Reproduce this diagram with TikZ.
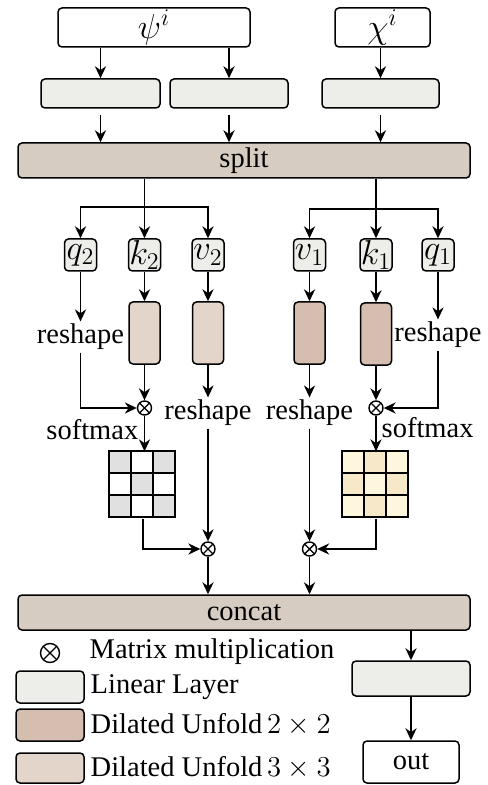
\documentclass[tikz,border=0pt]{standalone}
\usepackage{fontspec}
\setmainfont{Liberation Serif}
\usetikzlibrary{arrows.meta,calc}
\definecolor{linfill}{HTML}{EDEDE9}
\definecolor{barfill}{HTML}{D6CCC2}
\definecolor{dilA}{HTML}{D5BDAF}
\definecolor{dilB}{HTML}{E3D5CA}
\colorlet{lcell0}{black!12}
\colorlet{lcell1}{white}
\definecolor{rcell0}{HTML}{FEF7DE}
\definecolor{rcell1}{HTML}{F7E8C7}

\begin{document}
\begin{tikzpicture}[x=0.5pt,y=-0.5pt,line width=0.7pt,
    font=\fontsize{14.25}{17}\selectfont,
    >={Stealth[length=6pt,width=5.6pt]},
    box/.style={draw,rounded corners=2pt,inner sep=0pt,line width=0.75pt},
    linbox/.style={box,fill=linfill},
    bar/.style={box,fill=barfill,minimum width=226pt,minimum height=17.5pt},
    unf/.style={box,minimum width=15.5pt,minimum height=31pt},
    sym/.style={font=\fontsize{17}{20}\selectfont},
    mul/.style={draw,circle,inner sep=0pt,minimum size=7pt,path picture={\draw (path picture bounding box.north west) -- (path picture bounding box.south east) (path picture bounding box.north east) -- (path picture bounding box.south west);}},
    lbl/.style={inner sep=1pt}]
    \useasboundingbox (0,0) rectangle (487,785);
    \node[box,sym,minimum width=96pt,minimum height=19.5pt] (psi) at (154,27.5) {$\psi^i$};
    \node[box,sym,minimum width=47.5pt,minimum height=19.5pt] (chi) at (382.5,27.5) {$\chi^i$};
    \node[linbox,minimum width=59.5pt,minimum height=14.5pt] (lin1) at (100.5,93.5) {};
    \node[linbox,minimum width=59pt,minimum height=14.5pt] (lin2) at (229,93.5) {};
    \node[linbox,minimum width=58.5pt,minimum height=14.5pt] (lin3) at (380.5,93.5) {};
    \node[bar] (split) at (244,160.5) {split};
    \draw[->] (lin1 |- psi.south) -- (lin1);
    \draw[->] (lin2 |- psi.south) -- (lin2);
    \draw[->] (lin3 |- chi.south) -- (lin3);
    \foreach \n in {lin1,lin2,lin3}
        \draw[->,shorten <=3pt] (\n) -- (\n |- split.north);

    \foreach \n/\x/\t in {q2/80.5/q_2,k2/144.5/k_2,v2/208/v_2,v1/309.5/v_1,k1/376/k_1,q1/438/q_1}
        \node[linbox,sym,minimum size=16pt] (\n) at (\x,255) {$\t$};
    \coordinate (lsp) at (144.5,207);
    \coordinate (rsp) at (376,209);
    \draw[->] (split.south -| k2) -- (k2);
    \draw[->] (lsp) -| (q2);
    \draw[->] (lsp) -| (v2);
    \draw[->] (split.south -| k1) -- (k1);
    \draw[->] (rsp) -| (v1);
    \draw[->] (rsp) -| (q1);

    \node[unf,fill=dilB] (uk2) at (144.5,333) {};
    \node[unf,fill=dilB] (uv2) at (208,333) {};
    \node[unf,fill=dilA] (uv1) at (309.5,333) {};
    \node[unf,fill=dilA] (uk1) at (376,334) {};
    \foreach \a/\b in {k2/uk2,v2/uv2,v1/uv1,k1/uk1}
        \draw[->] (\a) -- (\b);

    \node[lbl] (rsq2) at (80.5,337) {reshape};
    \node[lbl] (rsv2) at (208,413) {reshape};
    \node[lbl] (rsv1) at (309.5,413) {reshape};
    \node[lbl] (rsq1) at (438,335) {reshape};
    \node[mul] (m1) at (144.5,408) {};
    \node[mul] (m2) at (376,408) {};
    \node[mul] (m3) at (208,549) {};
    \node[mul] (m4) at (309.5,549) {};
    \draw[->] (q2) -- (rsq2);
    \draw[->] (rsq2) |- (m1);
    \draw[->] (uk2) -- (m1);
    \draw[->] (uv2) -- (rsv2);
    \draw[->] (rsv2) -- (m3);
    \draw[->] (uv1) -- (rsv1);
    \draw[->] (rsv1) -- (m4);
    \draw[->] (q1) -- (rsq1);
    \draw[->] (rsq1) |- (m2);
    \draw[->] (uk1) -- (m2);

    \node[lbl,anchor=east] (sm1) at (141,430) {softmax};
    \node[lbl,anchor=west] (sm2) at (379,428) {softmax};
    \node[minimum size=33pt,inner sep=0pt] (g1) at (143,485) {};
    \node[minimum size=33pt,inner sep=0pt] (g2) at (376,485) {};
    \foreach \i in {0,1,2}{\foreach \j in {0,1,2}{
        \pgfmathtruncatemacro{\odd}{mod(\i+\j,2)}
        \filldraw[line width=0.9pt,fill=lcell\odd] ($(g1.north west)+(22*\i,22*\j)$) rectangle +(22,22);
        \filldraw[line width=0.9pt,fill=rcell\odd] ($(g2.north west)+(22*\i,22*\j)$) rectangle +(22,22);
    }}
    \draw[->] (m1) -- (m1 |- g1.north);
    \draw[->] (m2) -- (m2 |- g2.north);
    \draw[->] (g1) |- (m3);
    \draw[->] (g2) |- (m4);

    \node[bar] (concat) at (244,612.5) {concat};
    \draw[->] (m3) -- (m3 |- concat.north);
    \draw[->] (m4) -- (m4 |- concat.north);
    \node[linbox,minimum width=59pt,minimum height=17.5pt] (lin4) at (411,678.5) {};
    \node[box,minimum width=48pt,minimum height=21pt] (out) at (411,762) {out};
    \draw[->] (concat.south -| lin4) -- (lin4);
    \draw[->] (lin4) -- (out);

    \node[mul,minimum size=9.5pt] (lgmul) at (50,653) {};
    \node[lbl,anchor=west] (lgmultxt) at (87,652) {Matrix multiplication};
    \node[linbox,minimum width=34pt,minimum height=16pt] (lglin) at (50,687) {};
    \node[lbl,anchor=west] (lglintxt) at (88,687) {Linear Layer};
    \node[box,fill=dilA,minimum width=34pt,minimum height=16pt] (lgdila) at (50,725) {};
    \node[lbl,anchor=west] (lgdilatxt) at (88,725) {Dilated Unfold\,$2\times 2$};
    \node[box,fill=dilB,minimum width=34pt,minimum height=15pt] (lgdilb) at (50,768) {};
    \node[lbl,anchor=west] (lgdilbtxt) at (88,768) {Dilated Unfold\,$3\times 3$};
\end{tikzpicture}
\end{document}
